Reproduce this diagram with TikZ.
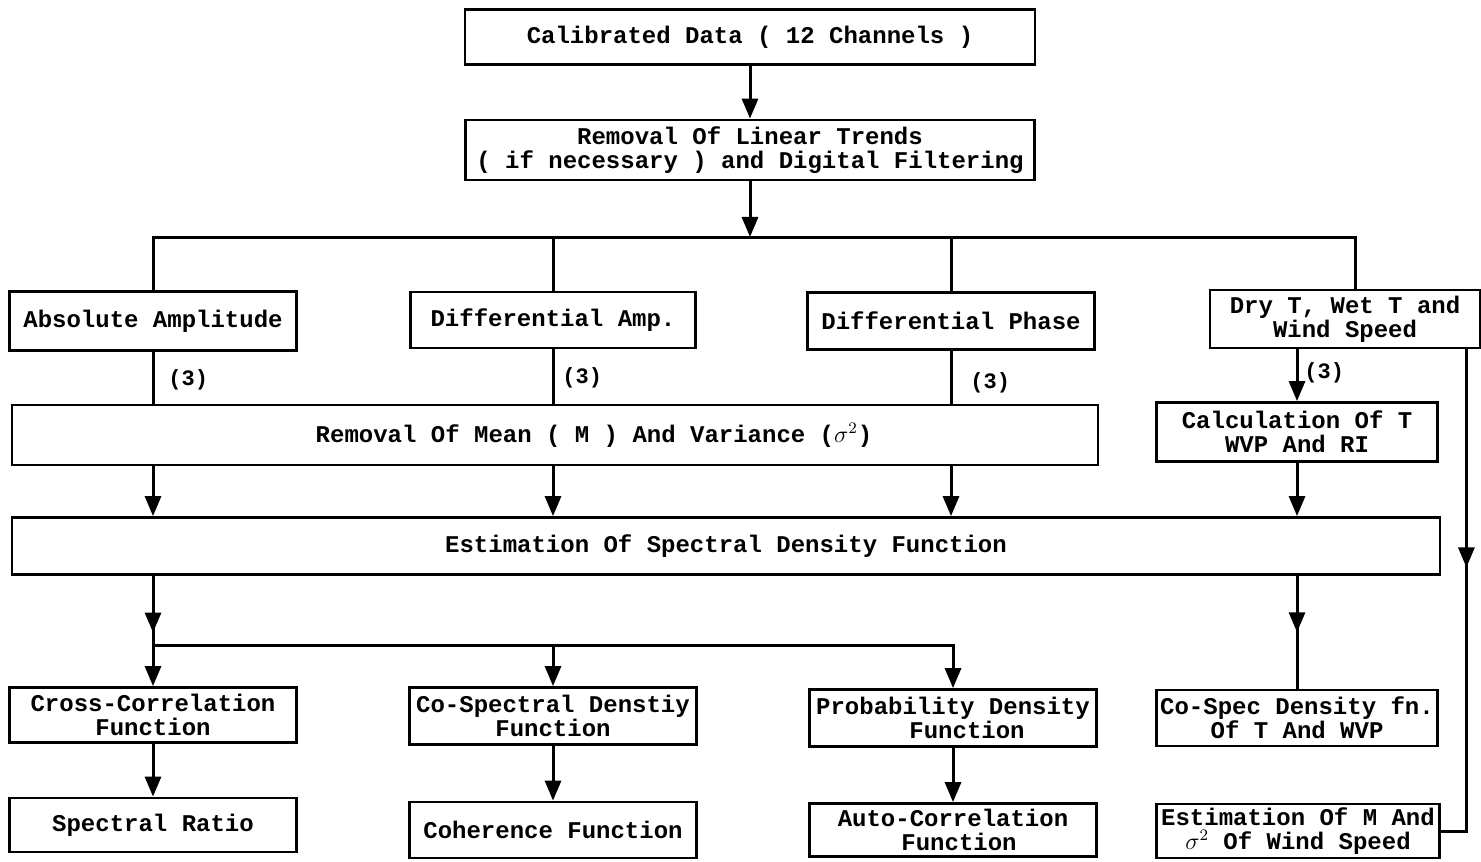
\documentclass[tikz,border=0pt]{standalone}
\usepackage{fontspec}
\usetikzlibrary{arrows.meta,decorations.markings}
\newfontfamily\boxfont{Liberation Mono}

\tikzset{
  blk/.style={draw,line width=1.4pt,inner sep=0pt,align=center,
    font=\boxfont\bfseries\fontsize{12}{12}\selectfont},
  lbl/.style={inner sep=1pt,anchor=west,font=\boxfont\bfseries\fontsize{11}{11}\selectfont},
  wire/.style={line width=1.5pt},
  arr/.style={wire,-{Triangle[length=10pt,width=8pt]}},
  midarr/.style={wire,postaction={decorate,decoration={markings,
    mark=at position #1 with {\arrow{Triangle[length=10pt,width=8pt]}}}}}
}

\begin{document}
\begin{tikzpicture}[x=0.5pt,y=-0.5pt]
\useasboundingbox (0,0) rectangle (1481,861);

% top part
\node[blk,minimum width=285pt,minimum height=27.5pt] (cal) at (750,37) {Calibrated Data ( 12 Channels )};
\node[blk,minimum width=284.5pt,minimum height=30pt] (trend) at (750,150) {Removal Of Linear Trends\\( if necessary ) and Digital Filtering};
\coordinate (bus) at (750,237);

\draw[arr] (cal) -- (trend);
\draw[arr] (trend) -- (bus);

% four channels
\node[blk,minimum width=143.5pt,minimum height=29.5pt] (abs) at (153,321) {Absolute Amplitude};
\node[blk,minimum width=142.5pt,minimum height=28pt] (damp) at (553,320) {Differential Amp.};
\node[blk,minimum width=143.5pt,minimum height=28.5pt] (dphase) at (951,321) {Differential Phase};
\node[blk,minimum width=135pt,minimum height=29pt] (dry) at (1345,319) {Dry T, Wet T and\\Wind Speed};

\draw[wire] (abs.north) |- (bus);
\draw[wire] (damp.north) |- (bus);
\draw[wire] (dphase.north) |- (bus);
\draw[wire] ([xshift=5pt]dry.north) |- (bus);

% second row
\node[blk,minimum width=543pt,minimum height=30pt] (mean) at (555,435) {\hspace*{39pt}Removal Of Mean ( M ) And Variance ($\sigma^2$)};
\node[blk,minimum width=140.5pt,minimum height=29.5pt] (calc) at (1297,432) {Calculation Of T\\WVP And RI};

\draw[wire] (abs.south) -- (abs.south |- mean.north);
\draw[wire] (damp.south) -- (damp.south |- mean.north);
\draw[wire] (dphase.south) -- (dphase.south |- mean.north);
\draw[arr] (dry.south -| calc.north) -- (calc.north);

\node[lbl] (n1) at (166,380) {(3)};
\node[lbl] (n2) at (560,378) {(3)};
\node[lbl] (n3) at (968,383) {(3)};
\node[lbl] (n4) at (1302,373) {(3)};

% spectral density
\node[blk,minimum width=714pt,minimum height=28.5pt] (sdf) at (726,546) {Estimation Of Spectral Density Function};

\draw[arr] (mean.south -| abs.south) -- (sdf.north -| abs.south);
\draw[arr] (mean.south -| damp.south) -- (sdf.north -| damp.south);
\draw[arr] (mean.south -| dphase.south) -- (sdf.north -| dphase.south);
\draw[arr] (calc.south) -- (calc.south |- sdf.north);

% third row
\node[blk,minimum width=143.5pt,minimum height=27.5pt] (cross) at (153,715) {Cross-Correlation\\Function};
\node[blk,minimum width=143.5pt,minimum height=28.5pt] (cospec) at (553,716) {Co-Spectral Denstiy\\Function};
\node[blk,minimum width=143.5pt,minimum height=28.5pt] (prob) at (953,718) {Probability Density\\\hspace*{14pt}Function};
\node[blk,minimum width=140.5pt,minimum height=28pt] (cosp) at (1297,718) {Co-Spec Density fn.\\Of T And WVP};
\coordinate (bus2) at (153,645);

\draw[midarr=0.82] (sdf.south -| cross.north) -- (bus2);
\draw[arr] (bus2) -- (cross.north);
\draw[arr] (bus2) -| (cospec.north);
\draw[arr] (bus2) -| (prob.north);
\draw[midarr=0.5] (sdf.south -| cosp.north) -- (cosp.north);

% bottom row
\node[blk,minimum width=143.5pt,minimum height=27pt] (ratio) at (153,825) {Spectral Ratio};
\node[blk,minimum width=143.5pt,minimum height=28pt] (coh) at (553,830) {Coherence Function};
\node[blk,minimum width=143.5pt,minimum height=26.5pt] (auto) at (953,830) {Auto-Correlation\\\hspace*{6pt}Function};
\node[blk,minimum width=141.5pt,minimum height=27pt] (estm) at (1298,831) {Estimation Of M And\\$\sigma^2$ Of Wind Speed};

\draw[arr] (cross) -- (ratio);
\draw[arr] (cospec) -- (coh);
\draw[arr] (prob) -- (auto);
\draw[midarr=0.43] ([xshift=-7.5pt]dry.south east) |- (estm.east);
\end{tikzpicture}
\end{document}
